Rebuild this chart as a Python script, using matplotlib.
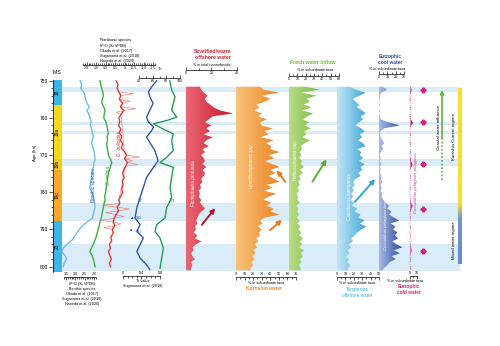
import numpy as np
import matplotlib
matplotlib.use('Agg')
import matplotlib.pyplot as plt
from matplotlib.colors import LinearSegmentedColormap

plt.rcParams['font.family'] = ['Liberation Sans', 'DejaVu Sans']

# ---------------- data ----------------
mis_names = ['18', '19a', '19b', '19c', '20']
mis_bounds = [749.8, 756.6, 771.0, 774.0, 787.6, 801.5]
mis_colors = ['#3db4e6', '#f3d81f', '#f2c81a', '#f6a928', '#3db4e6']

bands = [(751.6, 753.0), (761.0, 762.0), (763.4, 764.2), (771.0, 773.0),
         (783.0, 787.8), (794.0, 801.3)]

benth_age = list(range(750, 801))
benth_val = [2.75, 2.65, 2.72, 2.57, 2.48, 2.45, 2.39, 2.25, 2.38, 2.28, 2.22,
             2.15, 2.20, 2.13, 2.10, 2.04, 2.10, 2.13, 2.05, 2.00, 1.97,
             1.95, 2.00, 2.04, 2.08, 2.10, 2.13, 2.18, 2.20, 2.22, 2.12,
             2.04, 2.00, 1.97, 1.95, 2.00, 2.04, 2.10, 2.39, 2.61, 2.80,
             2.93, 3.05, 3.20, 3.45, 3.64, 3.73, 3.55, 3.46, 3.60, 3.64]

infl_age = [750, 751, 752, 753, 754, 755, 756, 757, 758, 759, 760, 761, 762, 763,
            764, 765, 766, 767, 768, 769, 770, 771, 772, 773, 774, 775, 776, 777,
            778, 779, 780, 781, 782, 783, 784, 785, 786, 787, 788, 789, 790, 791,
            792, 793, 794, 795, 796, 797, 798, 799, 800]
infl_val = [1.30, 1.26, 1.21, 1.15, 1.12, 1.18, 1.21, 1.10, 1.03, 1.08, 1.10, 1.00,
            0.94, 0.90, 0.86, 0.92, 0.90, 0.95, 0.92, 0.88, 0.86, 0.75, 0.68, 0.74,
            0.80, 0.86, 0.90, 0.92, 0.94, 0.98, 1.00, 1.05, 1.03, 1.08, 1.12, 1.16,
            1.20, 1.24, 1.30, 1.34, 1.39, 1.45, 1.50, 1.58, 1.65, 1.75, 1.83, 1.72,
            1.65, 1.60, 1.56]

bull_age = list(range(750, 801))
bull_val = [0.45, 0.35, 0.40, 0.30, 0.20, 0.28, 0.10, 0.22, 0.05, 0.18, 0.30,
            0.25, 0.32, 0.20, 0.28, 0.15, 0.22, 0.10, 0.18, 0.02, -0.10,
            0.00, -0.15, -0.05, 0.05, 0.10, 0.02, 0.12, 0.08, 0.15, 0.10,
            0.20, 0.30, 0.25, 0.40, 0.32, 0.45, 0.55, 0.60, 0.52, 0.65,
            0.60, 0.72, 0.68, 0.80, 0.75, 0.85, 0.78, 0.70, 0.80, 0.75]
bull_raw_age = [753.0, 753.5, 754.0, 755.0, 755.5, 756.0, 757.0, 757.5, 758.0, 758.5,
                759.0, 769.0, 770.0, 770.5, 771.0, 771.5, 772.0, 772.5, 773.0,
                782.0, 783.0, 783.5, 784.0, 784.5, 785.0, 785.5, 786.0, 786.5,
                787.0, 787.5, 788.0, 788.5, 789.0, 789.5, 790.0]
bull_raw_val = [0.30, -0.45, 0.20, 0.28, -0.30, 0.10, 0.22, -0.60, 0.05, 0.45,
                0.18, 0.02, -0.10, -0.80, 0.00, -0.40, -0.15, -0.70, -0.05,
                0.30, 0.25, 1.20, 0.40, -0.25, 0.32, 1.00, 0.45, 0.05, 0.55,
                1.30, 0.60, 0.20, 0.52, 1.10, 0.65]

tr_age = [750.0, 751.6, 753.0, 754.3, 756.1, 757.9, 759.8, 761.1, 762.5, 763.4,
          765.2, 766.6, 768.8, 771.5, 773.3, 776.0, 778.7, 781.4, 784.1, 786.9,
          788.7, 790.5, 792.3, 794.1, 795.9, 797.7, 799.5, 800.8]
tr_val = [0.73, 0.62, 0.55, 0.58, 0.65, 0.58, 0.51, 0.55, 0.66, 0.62, 0.51, 0.58,
          0.69, 0.76, 0.66, 0.51, 0.44, 0.37, 0.30, 0.26, 0.37, 0.30, 0.44, 0.37,
          0.30, 0.37, 0.51, 0.58]

tn_age = [750.0, 752.5, 754.3, 756.1, 757.9, 759.8, 760.7, 761.6, 763.0, 764.3,
          766.1, 768.8, 770.6, 772.0, 773.3, 776.0, 778.7, 781.4, 784.1, 786.9,
          788.7, 790.5, 792.3, 795.0, 797.7, 800.4]
tn_val = [85.0, 87.8, 92.7, 90.2, 87.8, 95.2, 80.5, 60.9, 75.6, 90.2, 87.8, 90.2,
          80.5, 70.7, 90.2, 87.8, 85.4, 87.8, 80.5, 78.0, 66.0, 63.4, 70.7, 75.6,
          73.2, 70.7]

nanno_age = [751.6, 752.4, 753.2, 754.0, 754.8, 755.6, 756.4, 757.2, 758.0, 758.8,
             759.6, 760.4, 761.2, 762.0, 762.8, 763.6, 764.4, 765.2, 766.0, 766.8,
             767.6, 768.4, 769.2, 770.0, 770.8, 771.6, 772.4, 773.2, 774.0, 774.8,
             775.6, 776.4, 777.2, 778.0, 778.8, 779.6, 780.4, 781.2, 782.0, 782.8,
             783.6, 784.4, 785.2, 786.0, 786.8, 787.6, 788.4, 789.2, 790.0, 790.8,
             791.6, 792.4, 793.2, 794.0, 794.8, 795.6, 796.4, 797.2, 798.0, 798.8,
             799.6, 800.4, 801.0]
f_profunda = [11, 12, 14, 17, 15, 16, 19, 22, 27, 37, 21, 18, 15, 20, 16, 19, 14, 21,
              16, 14, 18, 13, 15, 12, 14, 15, 13, 16, 13, 15, 14, 12, 13, 11, 12, 10,
              11, 10, 12, 11, 13, 15, 12, 10, 9, 8, 9, 7, 8, 6, 9, 7, 12, 8, 5, 6, 4,
              5, 7, 4, 5, 4, 4]
umbilico = [28, 32, 50, 30, 40, 34, 24, 27, 22, 30, 26, 36, 28, 30, 43, 33, 38, 29,
            44, 35, 41, 40, 51, 38, 45, 34, 42, 51, 40, 46, 38, 44, 51, 36, 42, 33,
            47, 38, 32, 41, 36, 44, 40, 51, 34, 28, 31, 26, 30, 27, 28, 24, 26, 22,
            25, 20, 23, 19, 22, 18, 20, 17, 17]
helico = [20, 37, 15, 33, 21, 25, 18, 27, 16, 29, 22, 17, 24, 19, 26, 18, 21, 16,
          25, 19, 14, 16, 13, 15, 12, 16, 14, 18, 13, 17, 12, 14, 11, 13, 10, 12,
          9, 11, 10, 13, 9, 11, 10, 12, 9, 13, 10, 14, 11, 15, 12, 17, 13, 16, 12,
          18, 14, 17, 13, 15, 12, 14, 14]
calcid = [15, 23, 34, 27, 19, 22, 26, 24, 30, 34, 28, 31, 26, 22, 29, 33, 27, 30,
          25, 31, 34, 24, 29, 27, 31, 26, 33, 28, 30, 25, 28, 22, 19, 21, 18, 20,
          17, 19, 16, 20, 18, 24, 21, 28, 25, 33, 27, 35, 29, 24, 21, 17, 19, 14,
          17, 12, 15, 11, 14, 12, 16, 13, 13]
braarudii = [4, 10, 3, 1, 1, 0, 1, 0, 1, 0, 1, 2, 12, 25, 6, 2, 1, 2, 4, 6, 3, 5, 2,
             1, 2, 1, 3, 1, 2, 1, 3, 2, 4, 2, 3, 2, 4, 3, 5, 8, 12, 10, 15, 12, 18,
             24, 14, 20, 17, 22, 19, 23, 16, 21, 28, 18, 25, 15, 20, 13, 10, 6, 4]
pelagicus = [0.5, 1.5, 0.5, 0, 0.5, 0, 0, 0.5, 0, 0, 0.5, 0.5, 4, 1, 0, 0, 0.5, 0,
             0, 0.5, 0, 0, 0.5, 0, 0.5, 1, 3, 1, 0, 0, 0.5, 0, 0, 0, 0.5, 0, 0, 0,
             0.5, 1, 3, 1, 0.5, 0, 0.5, 0, 0, 0.5, 0, 0, 0.5, 0, 0, 0.5, 1, 1.5, 0.5,
             0, 0.5, 0, 0, 0.5, 0]
event_age = [752.5, 761.2, 772.3, 784.5, 795.9]

# ---------------- layout helpers ----------------
W, H = 500, 346
fig = plt.figure(figsize=(5, 3.46), dpi=100)
Y_TOP, Y_BOT = 749.8, 801.5
PX_TOP, PX_BOT = 80.0, 272.2
SMALL = 2.7
TICK = 2.6
TITLE = 3.7


def add_ax(x0, x1, xlim=(0, 1)):
    ax = fig.add_axes([x0 / W, 1 - PX_BOT / H, (x1 - x0) / W, (PX_BOT - PX_TOP) / H])
    ax.set_ylim(Y_BOT, Y_TOP)
    ax.set_xlim(*xlim)
    ax.patch.set_alpha(0)
    for s in ax.spines.values():
        s.set_visible(False)
    ax.set_xticks([])
    ax.set_yticks([])
    return ax


def scale_bar(x0, x1, xlim, ypx, ticks, labels, bounds, minor=None, side='top'):
    ax = fig.add_axes([x0 / W, 1 - ypx / H, (x1 - x0) / W, 1e-4])
    ax.set_xlim(*xlim)
    ax.patch.set_alpha(0)
    ax.set_yticks([])
    for s in ax.spines.values():
        s.set_visible(False)
    pos = 'bottom' if side == 'top' else 'top'
    ax.xaxis.set_ticks_position(pos)
    sp = ax.spines[pos]
    sp.set_visible(True)
    sp.set_linewidth(0.5)
    sp.set_bounds(*bounds)
    ax.set_xticks(ticks)
    ax.set_xticklabels(labels)
    if minor is not None:
        ax.set_xticks(minor, minor=True)
    ax.tick_params(which='both', direction='in', width=0.45, labelsize=TICK, pad=0.8)
    ax.tick_params(which='major', length=1.9)
    ax.tick_params(which='minor', length=1.1)
    return ax


def T(x, y, s, **kw):
    kw.setdefault('ha', 'center')
    kw.setdefault('va', 'center')
    kw.setdefault('fontsize', SMALL)
    return fig.text(x / W, 1 - y / H, s, **kw)


def arrow(x0, y0, x1, y1, color, lw=1.4, ms=6.5):
    fig.add_artist(matplotlib.patches.FancyArrowPatch(
        (x0 / W, 1 - y0 / H), (x1 / W, 1 - y1 / H), transform=fig.transFigure,
        arrowstyle='-|>', mutation_scale=ms, color=color, lw=lw))


def grad_fill(ax, y, v, c_left, c_right, vmax):
    poly = ax.fill_betweenx(y, 0, v, facecolor='none', edgecolor='none', lw=0)
    path = poly.get_paths()[0]
    cmap = LinearSegmentedColormap.from_list('g', [c_left, c_right])
    grad = np.linspace(0, 1, 256)[None, :]
    xl = ax.get_xlim()
    im = ax.imshow(grad, cmap=cmap, aspect='auto', extent=[0, vmax, Y_BOT, Y_TOP],
                   interpolation='bilinear')
    im.set_clip_path(path, transform=ax.transData)
    ax.set_xlim(*xl)
    ax.set_ylim(Y_BOT, Y_TOP)


# ---------------- background bands ----------------
bg = add_ax(62, 460)
for a0, a1 in bands:
    bg.axhspan(a0, a1, color='#d9ecf8', lw=0, zorder=0)

# ---------------- MIS column + age axis ----------------
mis = add_ax(52.7, 61.7)
for i, name in enumerate(mis_names):
    mis.axhspan(mis_bounds[i], mis_bounds[i + 1], color=mis_colors[i], lw=0)
    mis.text(0.5, (mis_bounds[i] + mis_bounds[i + 1]) / 2, name, rotation=90,
             ha='center', va='center', fontsize=3.4)
mis.spines['left'].set_visible(True)
mis.spines['left'].set_linewidth(0.5)
mis.set_yticks(np.arange(750, 801, 10))
mis.set_yticks(np.arange(750, 801, 2), minor=True)
mis.tick_params(axis='y', which='both', width=0.45, labelsize=3.5, pad=1)
mis.tick_params(axis='y', which='major', length=2.6)
mis.tick_params(axis='y', which='minor', length=1.4)
T(57, 72, 'MIS', fontsize=3.6)
T(35, 153, 'Age (ka)', fontsize=3.2, rotation=90)

# ---------------- isotope / Tr / Tn ----------------
c_benth, c_infl, c_bull, c_tr, c_tn = '#6cb9e9', '#35ac3a', '#e2342d', '#2552a8', '#1d9a4e'
ax_b = add_ax(60, 185, (3.821, -2.864))
ax_b.plot(benth_val, benth_age, color=c_benth, lw=0.95)
ax_p = add_ax(60, 185, (3.410, -3.190))
ax_p.plot(infl_val, infl_age, color=c_infl, lw=0.95)
ax_p.plot(bull_raw_val, bull_raw_age, color='#f07a70', lw=0.45)
ax_p.plot(bull_val, bull_age, color=c_bull, lw=0.95)
ax_tr = add_ax(60, 185, (-1.362, 1.341))
ax_tr.plot(tr_val, tr_age, color=c_tr, lw=0.95)
ax_tn = add_ax(60, 185, (-75.6, 107.3))
ax_tn.plot(tn_val, tn_age, color=c_tn, lw=0.95)

scale_bar(60, 185, (3.410, -3.190), 65, [2, 1.5, 1, 0.5, 0, -0.5, -1, -1.5],
          ['2.0', '1.5', '1.0', '0.5', '0', '-0.5', '-1.0', '-1.5'], (2.2, -1.6),
          np.arange(-1.6, 2.21, 0.1), side='top')
scale_bar(60, 185, (-75.6, 107.3), 78, [40, 60, 80, 100], ['40', '60', '80', '100'],
          (40, 100), np.arange(40, 101, 10), side='top')
scale_bar(60, 185, (3.821, -2.864), 276.7, [3.5, 3.0, 2.5, 2.0],
          ['3.5', '3.0', '2.5', '2.0'], (3.6, 1.9), np.arange(1.9, 3.61, 0.1), side='bottom')
scale_bar(60, 185, (-1.362, 1.341), 276.3, [0, 0.4, 0.8], ['0', '0.4', '0.8'],
          (0, 0.8), np.arange(0, 0.81, 0.1), side='bottom')

T(100, 40, 'Planktonic species', ha='left')
T(100, 45.5, 'δ¹⁸O (‰ VPDB)', ha='left')
T(100, 51, 'Okada et al. (2017)', ha='left')
T(100, 56, 'Suganuma et al. (2018)', ha='left')
T(100, 61, 'Haneda et al. (2020)', ha='left')
T(160, 69.5, 'Tn', fontsize=2.8)
T(82, 284, 'δ¹⁸O (‰ VPDB)')
T(82, 289.3, 'Benthic species')
T(82, 294, 'Okada et al. (2017)')
T(82, 299, 'Suganuma et al. (2018)')
T(82, 303.7, 'Haneda et al. (2020)')
T(143, 280.7, 'Tr value')
T(143, 285.5, 'Suganuma et al. (2018)')

T(93, 185, 'Benthic species', rotation=90, color=c_tr, fontsize=3.4)
T(108, 175, 'G. inflata', rotation=90, color=c_infl, fontsize=3.4, style='italic')
T(119.5, 143, 'G. bulloides', rotation=90, color=c_bull, fontsize=3.4, style='italic')
T(140, 200, 'Tr', color=c_tr, fontsize=3.8)
T(172, 200, 'Tn', color=c_tn, fontsize=3.8)
T(139, 218, 'TB2', color=c_tr, fontsize=2.3)
T(139, 232, 'TB1', color=c_tr, fontsize=2.3)
arrow(134, 218, 128, 219, c_tr, lw=0.5, ms=2.5)
arrow(134, 231, 127, 229, c_tr, lw=0.5, ms=2.5)

# ---------------- nannofossil panels ----------------
ax_fp = add_ax(186, 240, (0, 42.6))
grad_fill(ax_fp, nanno_age, f_profunda, '#ea6672', '#c40f2a', 40)
scale_bar(186, 240, (0, 42.6), 70, [0, 20, 40], ['0', '20', '40'], (0, 40),
          np.arange(0, 41, 10), side='top')
T(213, 51.7, 'Stratified/warm', color='#d1202f', fontsize=TITLE, fontweight='bold')
T(213, 57.7, 'offshore water', color='#d1202f', fontsize=TITLE, fontweight='bold')
T(212, 65, '% in total nannofossils')
T(193, 183, 'Florisphaera profunda', rotation=90, color='white', fontsize=3.3, style='italic')

ax_um = add_ax(236, 300, (0, 74.7))
grad_fill(ax_um, nanno_age, umbilico, '#f9c47c', '#eb7612', 60)
scale_bar(236, 300, (0, 74.7), 276.7, list(range(0, 71, 10)),
          [str(v) for v in range(0, 71, 10)], (0, 70), np.arange(0, 71, 5), side='bottom')
T(266, 282.7, '% in subordinate taxa')
T(264, 288, 'Kuroshio water', color='#ec8a1c', fontsize=3.5, fontweight='bold')
T(251, 165, 'Umbilicosphaera spp.', rotation=90, color='white', fontsize=3.3, style='italic')

ax_he = add_ax(289, 342, (0, 63.6))
grad_fill(ax_he, nanno_age, helico, '#b9dc82', '#64ae36', 50)
scale_bar(289, 342, (0, 63.6), 76, list(range(0, 61, 10)),
          [str(v) for v in range(0, 61, 10)], (0, 60), np.arange(0, 61, 5), side='top')
T(313, 62.7, 'Fresh water inflow', color='#72b835', fontsize=TITLE, fontweight='bold')
T(315, 70, '% in subordinate taxa')
T(296, 160, 'Helicosphaera spp.', rotation=90, color='white', fontsize=3.3, style='italic')

ax_ca = add_ax(337, 385, (0, 57.1))
grad_fill(ax_ca, nanno_age, calcid, '#c3e6f6', '#2c9ed6', 40)
scale_bar(337, 385, (0, 57.1), 276.7, list(range(0, 51, 10)),
          [str(v) for v in range(0, 51, 10)], (0, 50), np.arange(0, 51, 5), side='bottom')
T(357, 283.3, '% in subordinate taxa')
T(357, 290, 'Temperate', color='#3aaee0', fontsize=3.4)
T(357, 295.3, 'offshore water', color='#3aaee0', fontsize=3.4)
T(350, 197, 'Calcidiscus leptoporus', rotation=90, color='white', fontsize=3.3, style='italic')

ax_br = add_ax(379, 410, (0, 37.2))
grad_fill(ax_br, nanno_age, braarudii, '#a9bbe6', '#1f3d95', 30)
scale_bar(379, 410, (0, 37.2), 74.3, [0, 10, 20, 30], ['0', '10', '20', '30'], (0, 30),
          np.arange(0, 31, 5), side='top')
T(390, 56.7, 'Eutrophic', color='#2f4fa2', fontsize=3.5, fontweight='bold')
T(390, 62.7, 'cool water', color='#2f4fa2', fontsize=3.5, fontweight='bold')
T(387, 69.3, '% in subordinate taxa')
T(385.5, 220, 'Coccolithus pelagicus braarudii', rotation=90, color='white',
  fontsize=3.1, style='italic')

c_mag = '#d3237f'
ax_pe = add_ax(405, 425, (-7.1, 21.4))
ax_pe.fill_betweenx(nanno_age, 0, pelagicus, color=c_mag, lw=0)
ax_pe.plot(pelagicus, nanno_age, color=c_mag, lw=0.55, ls=(0, (1, 2)))
scale_bar(405, 425, (-7.1, 21.4), 276.3, [0, 10], ['0', '10'], (0, 10), [0, 5, 10],
          side='bottom')
T(405, 280.7, '% in subordinate taxa')
T(409, 286.7, 'Eutrophic', color=c_mag, fontsize=3.4, fontweight='bold')
T(409, 292.3, 'cold water', color=c_mag, fontsize=3.4, fontweight='bold')
T(416.5, 183, 'Coccolithus pelagicus pelagicus', rotation=90, color=c_mag,
  fontsize=3.1, style='italic')

# ---------------- regime column ----------------
rax = add_ax(418, 470, (0, 52))
rax.plot([5] * len(event_age), event_age, ls='none', marker='P', ms=3.4, color=c_mag,
         mec=c_mag)
c_coast = '#5bb33a'
rax.plot([24, 24], [765.5, 776.8], color=c_coast, lw=1.2, ls=(0, (1, 1.2)))
rax.annotate('', xy=(24, 751.8), xytext=(24, 766.0),
             arrowprops=dict(arrowstyle='-|>', color=c_coast, lw=1.2, mutation_scale=5))
T(439.5, 128, 'Coastal water influence', rotation=90, fontsize=3.2)
T(453.5, 137, 'Kuroshio Current regime', rotation=90, fontsize=3.2)
T(453.5, 240, 'Mixed water regime', rotation=90, fontsize=3.2)

bar = add_ax(457.8, 461.2, (0, 1))
f1 = (783.2 - 752.0) / (799.2 - 752.0)
f2 = (787.0 - 752.0) / (799.2 - 752.0)
cmap_r = LinearSegmentedColormap.from_list(
    'r', [(0, '#f4e22e'), (f1, '#f2df30'), (f2, '#7392cf'), (1, '#6a8ccd')])
bar.imshow(np.linspace(0, 1, 300)[:, None], cmap=cmap_r, aspect='auto',
           extent=[0, 1, 799.2, 752.0], origin='upper')
bar.set_xlim(0, 1)
bar.set_ylim(Y_BOT, Y_TOP)

# ---------------- trend arrows ----------------
arrow(200, 227, 217, 206, '#b5152b')
arrow(287, 184, 275, 168, '#e97a1c')
arrow(268, 232, 284, 218, '#e97a1c')
arrow(311, 184, 328, 157, '#5dad33')
arrow(353, 204, 377, 177, '#39a3da')

fig.savefig('out.png', dpi=100)
